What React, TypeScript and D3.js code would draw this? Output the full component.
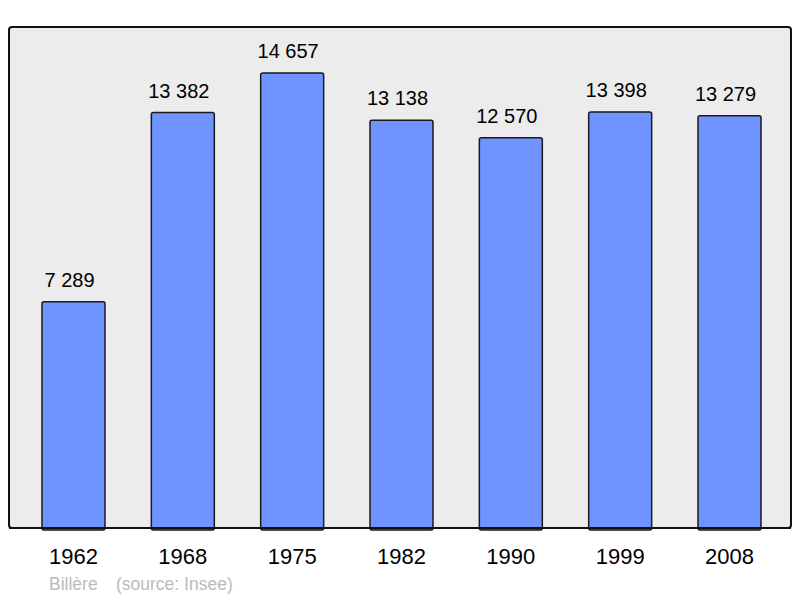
import { useEffect, useRef } from "react";
import * as d3 from "d3";

const years = ["1962", "1968", "1975", "1982", "1990", "1999", "2008"];
const population = [7289, 13382, 14657, 13138, 12570, 13398, 13279];
const placeName = "Billère";
const sourceNote = "(source: Insee)";

const fmt = (v: number) => d3.format(",")(v).replace(/,/g, " ");

const App = () => {
  const svgRef = useRef<SVGSVGElement>(null);

  useEffect(() => {
    const width = 800;
    const height = 598;
    const panel = { left: 9, right: 791, top: 27, bottom: 528 };
    const font = "'Liberation Sans', Arial, sans-serif";

    const svg = d3.select(svgRef.current);
    svg.selectAll("*").remove();
    svg.attr("width", width).attr("height", height);

    svg
      .append("rect")
      .attr("x", panel.left)
      .attr("y", panel.top)
      .attr("width", panel.right - panel.left)
      .attr("height", panel.bottom - panel.top)
      .attr("rx", 3)
      .attr("fill", "#ececec")
      .attr("stroke", "#111")
      .attr("stroke-width", 2);

    const x = d3
      .scaleBand()
      .domain(years)
      .range([42, 761])
      .paddingInner(0.424)
      .paddingOuter(0);

    const y = d3.scaleLinear().domain([0, 16140]).range([panel.bottom, panel.top]);

    const g = svg.append("g");

    g.selectAll("rect.bar")
      .data(population)
      .enter()
      .append("rect")
      .attr("class", "bar")
      .attr("x", (_, i) => x(years[i])!)
      .attr("y", (d) => y(d))
      .attr("width", x.bandwidth())
      .attr("height", (d) => panel.bottom - y(d) + 2)
      .attr("rx", 2)
      .attr("fill", "#7094ff")
      .attr("stroke", "#1a1a1a")
      .attr("stroke-width", 1.5);

    // redraw bottom frame line over the bars
    svg
      .append("line")
      .attr("x1", panel.left)
      .attr("x2", panel.right)
      .attr("y1", panel.bottom)
      .attr("y2", panel.bottom)
      .attr("stroke", "#111")
      .attr("stroke-width", 2);

    // value labels sit a little left of the bar centre in the original
    g.selectAll("text.value")
      .data(population)
      .enter()
      .append("text")
      .attr("class", "value")
      .attr("x", (_, i) => x(years[i])! + x.bandwidth() / 2 - 4)
      .attr("y", (d) => y(d) - 15)
      .attr("text-anchor", "middle")
      .style("font-family", font)
      .style("font-size", "20px")
      .attr("fill", "#000")
      .text((d) => fmt(d));

    g.selectAll("text.year")
      .data(years)
      .enter()
      .append("text")
      .attr("class", "year")
      .attr("x", (d) => x(d)! + x.bandwidth() / 2)
      .attr("y", 564)
      .attr("text-anchor", "middle")
      .style("font-family", font)
      .style("font-size", "22px")
      .attr("fill", "#000")
      .text((d) => d);

    const foot = svg
      .append("text")
      .attr("x", 49)
      .attr("y", 590)
      .style("font-family", font)
      .style("font-size", "17.5px")
      .attr("fill", "#bbbbbb");
    foot.append("tspan").text(placeName);
    foot.append("tspan").attr("x", 116).text(sourceNote);
  }, []);

  return (
    <div style={{ position: "absolute", left: 0, top: 0 }}>
      <svg ref={svgRef}></svg>
    </div>
  );
};

export default App;
